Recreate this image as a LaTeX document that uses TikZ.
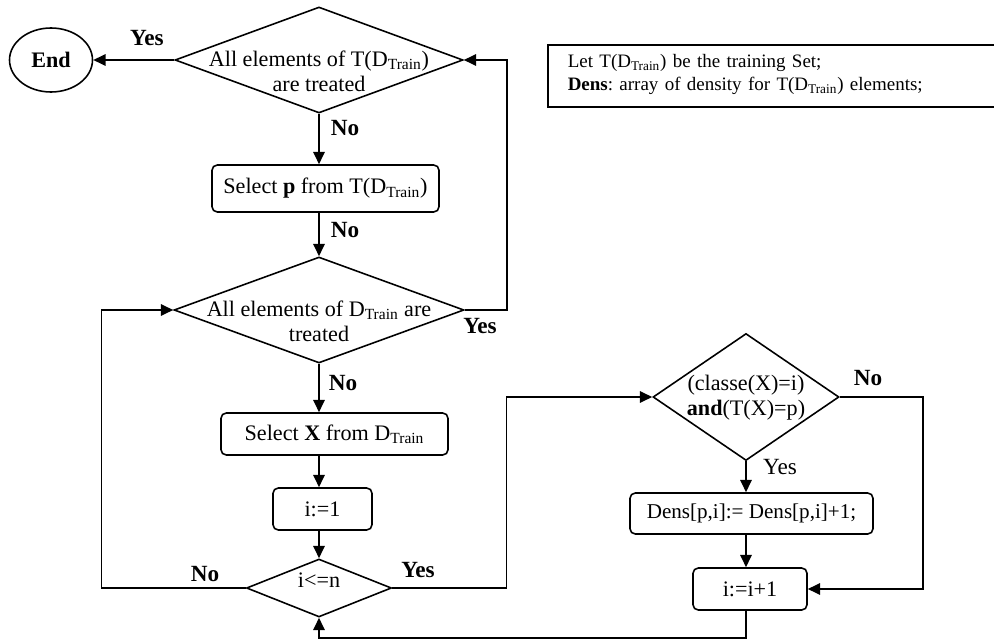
\documentclass[tikz,border=0pt]{standalone}
\usepackage{fontspec}
\setmainfont{Liberation Serif}
\usetikzlibrary{arrows.meta, shapes.geometric}
\newcommand{\Tr}{\textsubscript{Train}}
\newcommand{\dtxt}[2][0pt]{\makebox[0pt]{\raisebox{#1}[0pt][0pt]{\begin{tabular}[c]{@{}c@{}}#2\end{tabular}}}}

\begin{document}
\frenchspacing
\begin{tikzpicture}[x=0.2mm,y=-0.2mm,
  font=\fontsize{12.6}{14.2}\selectfont,
  line width=0.9pt,
  arr/.style={-{Triangle[length=7pt,width=6.5pt]}},
  proc/.style={draw,rounded corners=3pt,inner sep=0pt},
  test/.style={draw,diamond,inner sep=0pt},
  lbl/.style={font=\fontsize{13.2}{15}\selectfont\bfseries},
  lblr/.style={font=\fontsize{13.2}{15}\selectfont}]
  \useasboundingbox (0,0) rectangle (994,639);
  \node[draw,ellipse,inner sep=0pt,minimum width=16.6mm,minimum height=12.8mm] (end) at (51,60) {\textbf{End}};
  \node[test,minimum width=57.6mm,minimum height=21.2mm] (alltd) at (319,60) {\dtxt[-3.8mm]{All elements of T(D\Tr)\\are treated}};
  \node[proc,minimum width=45.4mm,minimum height=9.4mm] (selp) at (325.5,188.5) {Select \textbf{p} from T(D\Tr)};
  \node[test,minimum width=58mm,minimum height=21.2mm] (alld) at (319,310) {\dtxt[-3.8mm]{All elements of D\Tr{} are\\treated}};
  \node[proc,minimum width=45.4mm,minimum height=8.4mm] (selx) at (334.5,434) {Select \textbf{X} from D\Tr};
  \node[proc,minimum width=19.8mm,minimum height=8.4mm] (init) at (322.5,509) {i:=1};
  \node[test,minimum width=29mm,minimum height=11.6mm] (chk) at (319,588) {\dtxt{i<=n}};
  \node[test,minimum width=37.2mm,minimum height=25.4mm] (cond) at (746,397) {\dtxt[-1.2mm]{(classe(X)=i)\\\textbf{and}(T(X)=p)}};
  \node[proc,minimum width=48.6mm,minimum height=8.2mm,font=\fontsize{12}{14}\selectfont] (dens) at (751.5,513.5) {Dens[p,i]:= Dens[p,i]+1;};
  \node[proc,minimum width=22.8mm,minimum height=8.4mm] (incr) at (750,589) {i:=i+1};
  \node[draw,anchor=north west,inner xsep=4mm,inner ysep=2mm,text width=82.6mm,align=left,text depth=5.8mm,font=\fontsize{10.8}{13}\selectfont] (note) at (547,44)
    {Let T(D\Tr) be the training Set;\\\textbf{Dens}: array of density for T(D\Tr) elements;};

  \draw[arr] (alltd.west) -- (end.east);
  \draw[arr] (alltd.south) -- (alltd.south |- selp.north);
  \draw[arr] (alld.north |- selp.south) -- (alld.north);
  \draw[arr] (alld.south) -- (alld.south |- selx.north);
  \draw[arr] (alld.south |- selx.south) -- (alld.south |- init.north);
  \draw[arr] (alld.south |- init.south) -- (chk.north);
  \draw[arr] (alld.east) -- ++(42,0) |- (alltd.east);
  \draw[arr] (chk.west) -- ++(-144,0) |- (alld.west);
  \draw[arr] (chk.east) -- ++(114,0) |- (cond.west);
  \draw[arr] (cond.south) -- (cond.south |- dens.north);
  \draw[arr] (cond.south |- dens.south) -- (cond.south |- incr.north);
  \draw[arr] (cond.east) -- ++(83,0) |- (incr.east);
  \draw[arr] (cond.south |- incr.south) -- ++(0,27) -| (chk.south);

  \node[lbl] (yend) at (147,38) {Yes};
  \node[lbl] (nosel) at (345,128) {No};
  \node[lbl] (nop) at (345,230) {No};
  \node[lbl] (noX) at (343,383) {No};
  \node[lbl] (yback) at (480,326) {Yes};
  \node[lbl] (nochk) at (205,574) {No};
  \node[lbl] (ychk) at (418,570) {Yes};
  \node[lblr] (ycond) at (780,467) {Yes};
  \node[lbl] (nocond) at (868,378) {No};
\end{tikzpicture}
\end{document}
